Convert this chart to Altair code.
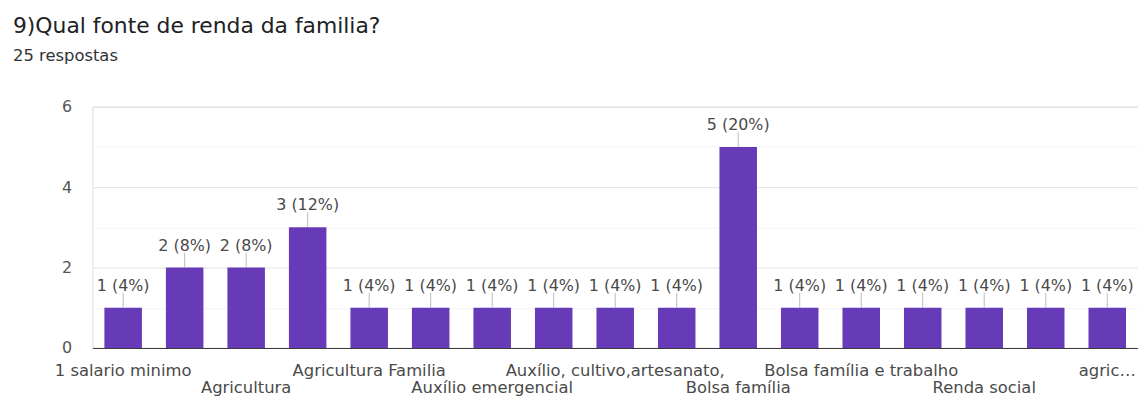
import altair as alt
import pandas as pd

# ---- data ----
categories = [
    "1 salario minimo", "Agricultor", "Agricultura", "Agricultura e pesca",
    "Agricultura Familia", "Aposentadoria", "Auxílio emergencial", "Auxílio Brasil",
    "Auxílio, cultivo,artesanato,", "Benefício social", "Bolsa família",
    "Bolsa família e agricultura", "Bolsa família e trabalho", "Pesca",
    "Renda social", "Trabalho autônomo", "agricultura familiar",
]
counts = [1, 2, 2, 3, 1, 1, 1, 1, 1, 1, 5, 1, 1, 1, 1, 1, 1]
shown_labels = [
    "1 salario minimo", "", "Agricultura", "", "Agricultura Familia", "",
    "Auxílio emergencial", "", "Auxílio, cultivo,artesanato,", "", "Bolsa família",
    "", "Bolsa família e trabalho", "", "Renda social", "", "agric…",
]
label_rows = [1, 0, 2, 0, 1, 0, 2, 0, 1, 0, 2, 0, 1, 0, 2, 0, 1]
total = 25
y_ticks = [0, 1, 2, 3, 4, 5, 6]

df = pd.DataFrame({
    "cat": categories,
    "count": counts,
    "shown": shown_labels,
    "row": label_rows,
})
df["annot"] = [f"{c} ({round(c * 100 / total)}%)" for c in counts]

FONT = "DejaVu Sans"
BAR = "#673ab7"
TXT = "#4a4a4a"

x_enc = alt.X(
    "cat:N", sort=categories, title=None,
    scale=alt.Scale(paddingInner=0.39, paddingOuter=0.195),
    axis=alt.Axis(labels=False, ticks=False, domain=True, domainColor="#333333",
                  domainWidth=1, grid=False),
)
y_enc = alt.Y(
    "count:Q", title=None,
    scale=alt.Scale(domain=[0, 6], nice=False),
    axis=alt.Axis(
        values=y_ticks, labelExpr="datum.value % 2 === 0 ? datum.label : ''",
        ticks=False, domain=False, labelPadding=21, labelFont=FONT,
        labelFontSize=16, labelColor="#555555",
        gridColor={"condition": {"test": "datum.value % 2 === 0", "value": "#e3e3e3"},
                   "value": "#f3f3f3"},
    ),
)

base = alt.Chart(df)

bars = base.mark_bar(color=BAR).encode(x=x_enc, y=y_enc)

stems = base.mark_tick(orient="vertical", size=15, thickness=1, color="#9e9e9e",
                       yOffset=-7.5).encode(x=alt.X("cat:N", sort=categories),
                                            y="count:Q")

annots = base.mark_text(dy=-17, baseline="alphabetic", font=FONT, fontSize=16,
                        color=TXT).encode(x=alt.X("cat:N", sort=categories),
                                          y="count:Q", text="annot:N")

row1 = base.transform_filter("datum.row === 1").mark_text(
    baseline="alphabetic", font=FONT, fontSize=16.5, color=TXT
).encode(x=alt.X("cat:N", sort=categories), y=alt.value(271), text="shown:N")

row2 = base.transform_filter("datum.row === 2").mark_text(
    baseline="alphabetic", font=FONT, fontSize=16.5, color=TXT
).encode(x=alt.X("cat:N", sort=categories), y=alt.value(288), text="shown:N")

chart = alt.layer(bars, stems, annots, row1, row2).properties(
    width=1053,
    height=243,
    autosize=alt.AutoSizeParams(type="none"),
    padding={"left": 85, "top": 98, "right": 0, "bottom": 48},
    title=alt.TitleParams(
        text="9)Qual fonte de renda da familia?",
        subtitle="25 respostas",
        anchor="start", frame="group", dx=-80, offset=34,
        font=FONT, fontSize=22, fontWeight="normal", color="#202124",
        subtitleFont=FONT, subtitleFontSize=16.5, subtitleColor="#333333",
        subtitlePadding=10,
    ),
).configure_view(stroke="#efefef").configure(background="white")

chart.save("out.html", embed_options={"renderer": "svg", "actions": False})
